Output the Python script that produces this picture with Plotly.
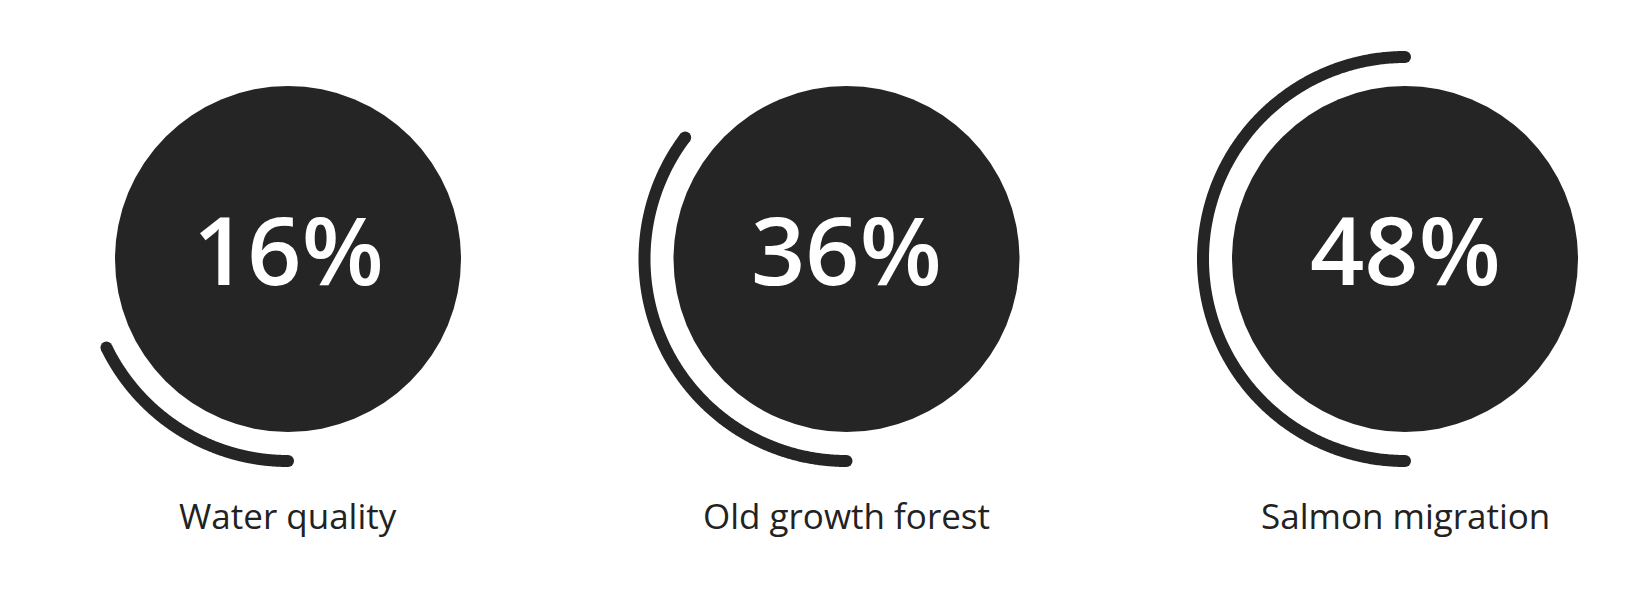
import numpy as np
import plotly.graph_objects as go

# ---- data ----
categories = ["Water quality", "Old growth forest", "Salmon migration"]
values = [16, 36, 48]                 # percentages shown in the circles
arc_sweep_deg = [64, 127, 180]        # arc extent

# ---- layout constants (pixels) ----
W, H = 1647, 596
CX0, DX = 288, 558.5
CY = 259
R_DISC = 173
R_ARC = 202
ARC_W = 12
DARK = "#252525"
FONT = "Open Sans, Noto Sans, DejaVu Sans, sans-serif"

fig = go.Figure()
shapes = []
annotations = []
for i, (cat, val, sweep) in enumerate(zip(categories, values, arc_sweep_deg)):
    cx = CX0 + i * DX
    shapes.append(dict(type="circle", xref="x", yref="y",
                       x0=cx - R_DISC, x1=cx + R_DISC,
                       y0=CY - R_DISC, y1=CY + R_DISC,
                       fillcolor=DARK, line=dict(width=0), layer="below"))
    th = np.radians(np.linspace(0, sweep, 400))
    xs = cx - R_ARC * np.sin(th)
    ys = CY + R_ARC * np.cos(th)
    fig.add_trace(go.Scatter(x=xs, y=ys, mode="lines",
                             line=dict(color=DARK, width=ARC_W, simplify=False),
                             hoverinfo="skip", showlegend=False))
    fig.add_trace(go.Scatter(x=[xs[0], xs[-1]], y=[ys[0], ys[-1]], mode="markers",
                             marker=dict(color=DARK, size=ARC_W, line=dict(width=0)),
                             hoverinfo="skip", showlegend=False))
    annotations.append(dict(x=cx, y=CY - 11, xref="x", yref="y",
                            text=f"{val}%", showarrow=False,
                            xanchor="center", yanchor="middle",
                            font=dict(family=FONT, size=95, color="white", weight=600)))
    annotations.append(dict(x=cx, y=515, xref="x", yref="y",
                            text=cat, showarrow=False,
                            xanchor="center", yanchor="middle",
                            font=dict(family=FONT, size=35, color="#222222")))

fig.update_layout(
    width=W, height=H,
    margin=dict(l=0, r=0, t=0, b=0),
    paper_bgcolor="white", plot_bgcolor="white",
    shapes=shapes, annotations=annotations,
    xaxis=dict(range=[0, W], visible=False, fixedrange=True),
    yaxis=dict(range=[H, 0], visible=False, fixedrange=True),
    showlegend=False,
)
fig.write_html("out.html")
